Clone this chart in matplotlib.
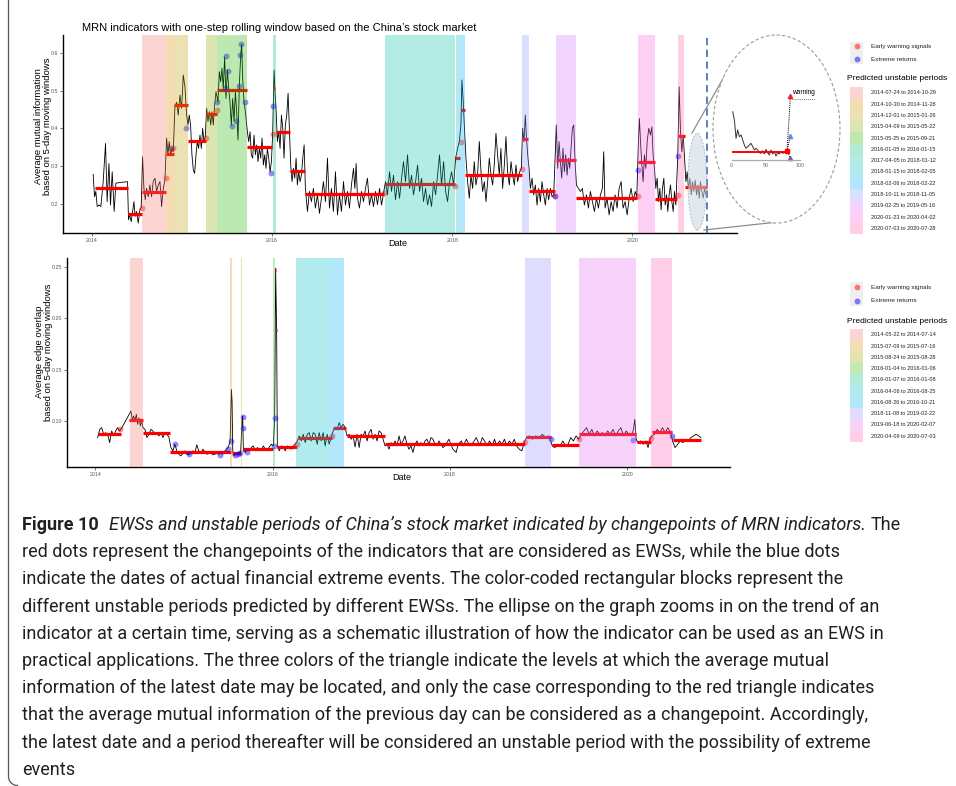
import numpy as np
import pandas as pd
import matplotlib
matplotlib.use("Agg")
import matplotlib.pyplot as plt
from matplotlib.patches import Ellipse, Rectangle
from matplotlib.lines import Line2D
from matplotlib.transforms import Affine2D

# ---------------- data: average mutual information (top) ----------------
mi_t = [2014.015, 2014.03, 2014.044, 2014.06, 2014.08, 2014.10, 2014.126, 2014.152, 2014.17, 2014.19, 2014.207, 2014.226, 2014.248, 2014.267, 2014.396,
        2014.407, 2014.42, 2014.437, 2014.452, 2014.467, 2014.481, 2014.496, 2014.515, 2014.533, 2014.548,
        2014.563, 2014.578, 2014.593, 2014.607, 2014.626, 2014.644, 2014.663, 2014.681, 2014.70, 2014.719, 2014.737, 2014.756, 2014.774, 2014.793, 2014.811,
        2014.83, 2014.844, 2014.859, 2014.874, 2014.889, 2014.904,
        2014.922, 2014.941, 2014.959, 2014.978, 2014.996, 2015.015, 2015.033, 2015.052, 2015.067,
        2015.081, 2015.096, 2015.111, 2015.126, 2015.141, 2015.156, 2015.17, 2015.185, 2015.20, 2015.215, 2015.23, 2015.244, 2015.259,
        2015.274, 2015.289, 2015.304, 2015.319, 2015.333, 2015.348, 2015.363, 2015.378,
        2015.40, 2015.415, 2015.43, 2015.444, 2015.459, 2015.474, 2015.489, 2015.504, 2015.519, 2015.533, 2015.548, 2015.563, 2015.578, 2015.593, 2015.607, 2015.622, 2015.637, 2015.652, 2015.663, 2015.674, 2015.689, 2015.704,
        2015.726, 2015.741, 2015.756, 2015.77, 2015.785, 2015.80, 2015.815, 2015.83, 2015.844, 2015.859, 2015.874, 2015.889, 2015.904, 2015.919, 2015.933, 2015.948, 2015.963, 2015.978, 2015.993,
        2016.007, 2016.022, 2016.033,
        2016.044, 2016.059, 2016.074, 2016.089, 2016.104, 2016.119, 2016.133, 2016.148, 2016.163, 2016.178, 2016.193,
        2016.207, 2016.222, 2016.237, 2016.252, 2016.267, 2016.281, 2016.296, 2016.311, 2016.326, 2016.341, 2016.356,
        2016.37, 2016.393, 2016.415, 2016.437, 2016.459, 2016.481, 2016.504, 2016.526, 2016.548, 2016.57,
        2016.593, 2016.615, 2016.637, 2016.659, 2016.681, 2016.704, 2016.726, 2016.748, 2016.77, 2016.793,
        2016.815, 2016.837, 2016.859, 2016.881, 2016.904, 2016.919, 2016.933, 2016.948, 2016.97, 2016.993,
        2017.015, 2017.037, 2017.059, 2017.081, 2017.104, 2017.126, 2017.148, 2017.17, 2017.193, 2017.215, 2017.237,
        2017.259, 2017.281, 2017.304, 2017.326, 2017.348, 2017.37, 2017.393, 2017.415, 2017.441, 2017.459,
        2017.481, 2017.504, 2017.526, 2017.548, 2017.57, 2017.593, 2017.615, 2017.637, 2017.659, 2017.681,
        2017.704, 2017.726, 2017.748, 2017.77, 2017.793, 2017.815, 2017.837, 2017.859, 2017.881, 2017.904,
        2017.926, 2017.948, 2017.97, 2017.993, 2018.015,
        2018.037, 2018.059, 2018.078, 2018.096, 2018.107, 2018.122, 2018.137,
        2018.152, 2018.17, 2018.189, 2018.207, 2018.226, 2018.244, 2018.263, 2018.281, 2018.30, 2018.319,
        2018.337, 2018.356, 2018.374, 2018.393, 2018.411, 2018.43, 2018.448, 2018.466, 2018.485, 2018.503,
        2018.522, 2018.54, 2018.559, 2018.578, 2018.596, 2018.614, 2018.633, 2018.652, 2018.67, 2018.689,
        2018.707, 2018.726, 2018.748, 2018.767,
        2018.781, 2018.796, 2018.811, 2018.822, 2018.837,
        2018.852, 2018.867, 2018.885, 2018.904, 2018.922, 2018.941, 2018.959, 2018.978, 2018.996, 2019.015, 2019.033, 2019.052, 2019.07, 2019.089, 2019.107, 2019.126,
        2019.155, 2019.17, 2019.185, 2019.20, 2019.215, 2019.229, 2019.244, 2019.259, 2019.274, 2019.289, 2019.304, 2019.318, 2019.333, 2019.348, 2019.363,
        2019.378, 2019.40, 2019.422, 2019.444, 2019.466, 2019.489, 2019.511, 2019.533, 2019.555, 2019.578,
        2019.60, 2019.622, 2019.644, 2019.666, 2019.681, 2019.696, 2019.718, 2019.741, 2019.763, 2019.785,
        2019.807, 2019.829, 2019.852, 2019.874, 2019.896, 2019.918, 2019.941, 2019.963, 2019.985, 2020.007,
        2020.03, 2020.048,
        2020.066, 2020.077, 2020.089, 2020.104, 2020.118, 2020.133, 2020.148, 2020.163, 2020.181, 2020.20, 2020.215, 2020.229, 2020.244,
        2020.259, 2020.274, 2020.289, 2020.304, 2020.318, 2020.333, 2020.348, 2020.363, 2020.378, 2020.392, 2020.407, 2020.422, 2020.437, 2020.452, 2020.466, 2020.481,
        2020.503, 2020.518, 2020.533, 2020.548, 2020.563,
        2020.578, 2020.593, 2020.607, 2020.622, 2020.637, 2020.652, 2020.666, 2020.681, 2020.696, 2020.711, 2020.726, 2020.741, 2020.755, 2020.77, 2020.785, 2020.80, 2020.815]
mi_v = [0.278, 0.219, 0.233, 0.193, 0.197, 0.193, 0.259, 0.36, 0.206, 0.307, 0.197, 0.285, 0.18, 0.255, 0.259,
        0.158, 0.171, 0.153, 0.18, 0.206, 0.167, 0.18, 0.149, 0.184, 0.19,
        0.325, 0.241, 0.211, 0.241, 0.219, 0.25, 0.219, 0.259, 0.268, 0.233, 0.25, 0.259, 0.193, 0.241, 0.263,
        0.374, 0.33, 0.365, 0.33, 0.347, 0.338,
        0.457, 0.469, 0.435, 0.488, 0.453, 0.541, 0.51, 0.435, 0.409,
        0.435, 0.409, 0.33, 0.29, 0.281, 0.33, 0.365, 0.347, 0.382, 0.347, 0.40, 0.365, 0.378,
        0.453, 0.418, 0.444, 0.409, 0.444, 0.409, 0.462, 0.497,
        0.47, 0.55, 0.523, 0.559, 0.506, 0.589, 0.479, 0.554, 0.506, 0.47, 0.409, 0.479, 0.418, 0.497, 0.444, 0.369, 0.515, 0.594, 0.622, 0.532, 0.47, 0.444,
        0.391, 0.365, 0.391, 0.33, 0.321, 0.382, 0.33, 0.356, 0.312, 0.347, 0.321, 0.374, 0.303, 0.33, 0.294, 0.347, 0.321, 0.285, 0.312,
        0.387, 0.554, 0.497,
        0.453, 0.365, 0.391, 0.347, 0.435, 0.40, 0.321, 0.409, 0.435, 0.493, 0.391,
        0.303, 0.259, 0.294, 0.268, 0.321, 0.25, 0.285, 0.259, 0.276, 0.321, 0.356,
        0.241, 0.18, 0.233, 0.206, 0.241, 0.189, 0.224, 0.175, 0.215, 0.259,
        0.206, 0.321, 0.189, 0.241, 0.18, 0.285, 0.171, 0.224, 0.18, 0.259,
        0.197, 0.233, 0.189, 0.25, 0.294, 0.241, 0.307, 0.215, 0.189, 0.233,
        0.206, 0.241, 0.268, 0.197, 0.224, 0.193, 0.233, 0.198, 0.241, 0.197, 0.228,
        0.259, 0.224, 0.285, 0.233, 0.276, 0.211, 0.259, 0.215, 0.276, 0.312,
        0.259, 0.33, 0.241, 0.276, 0.224, 0.259, 0.303, 0.233, 0.268, 0.206,
        0.241, 0.197, 0.224, 0.193, 0.259, 0.224, 0.276, 0.33, 0.25, 0.312,
        0.233, 0.206, 0.259, 0.285, 0.25,
        0.321, 0.347, 0.365, 0.409, 0.528, 0.47, 0.391,
        0.321, 0.259, 0.215, 0.276, 0.241, 0.312, 0.25, 0.276, 0.365, 0.285,
        0.233, 0.259, 0.206, 0.259, 0.321, 0.276, 0.25, 0.303, 0.387, 0.33,
        0.276, 0.347, 0.241, 0.303, 0.378, 0.285, 0.25, 0.312, 0.276, 0.25,
        0.303, 0.259, 0.285, 0.294,
        0.40, 0.365, 0.435, 0.382, 0.33,
        0.294, 0.241, 0.268, 0.224, 0.25, 0.197, 0.241, 0.206, 0.259, 0.224, 0.197, 0.241, 0.211, 0.241, 0.219, 0.224,
        0.409, 0.294, 0.365, 0.312, 0.268, 0.347, 0.285, 0.33, 0.276, 0.321, 0.294, 0.347, 0.40, 0.409, 0.312,
        0.25, 0.241, 0.233, 0.241, 0.197, 0.224, 0.189, 0.233, 0.206, 0.18,
        0.215, 0.189, 0.224, 0.241, 0.338, 0.189, 0.215, 0.171, 0.206, 0.18,
        0.224, 0.189, 0.241, 0.259, 0.189, 0.206, 0.171, 0.215, 0.241, 0.206,
        0.233, 0.219,
        0.365, 0.426, 0.365, 0.303, 0.259, 0.33, 0.294, 0.365, 0.40, 0.382, 0.404, 0.33, 0.294,
        0.241, 0.268, 0.206, 0.241, 0.184, 0.241, 0.268, 0.197, 0.224, 0.18, 0.224, 0.25, 0.206, 0.18, 0.233, 0.197,
        0.33, 0.51, 0.391, 0.338, 0.382,
        0.321, 0.259, 0.285, 0.241, 0.268, 0.224, 0.259, 0.233, 0.263, 0.224, 0.25, 0.215, 0.259, 0.233, 0.215, 0.241, 0.224]

# changepoint segments (start, end, mean level)
mi_seg_start = [2014.03, 2014.404, 2014.559, 2014.826, 2014.915, 2015.07, 2015.27, 2015.389, 2015.726, 2016.015, 2016.044, 2016.2, 2016.37,
                2017.248, 2018.033, 2018.096, 2018.144, 2018.774, 2018.848, 2019.148, 2019.374, 2020.059, 2020.255, 2020.503, 2020.578]
mi_seg_end = [2014.40, 2014.552, 2014.822, 2014.911, 2015.07, 2015.27, 2015.389, 2015.719, 2016.0, 2016.037, 2016.2, 2016.367, 2017.237,
              2018.03, 2018.089, 2018.144, 2018.774, 2018.84, 2019.137, 2019.374, 2020.052, 2020.255, 2020.496, 2020.578, 2020.822]
mi_seg_level = [0.243, 0.173, 0.231, 0.331, 0.463, 0.367, 0.437, 0.502, 0.35, 0.508, 0.389, 0.288, 0.226,
                0.252, 0.322, 0.448, 0.276, 0.371, 0.235, 0.315, 0.215, 0.311, 0.213, 0.379, 0.244]

mi_ews_t = [2014.552, 2014.822, 2014.904, 2015.263, 2015.385, 2016.007, 2017.244, 2018.033, 2018.092, 2018.774, 2019.137, 2020.059, 2020.503]
mi_ews_v = [0.189, 0.268, 0.349, 0.375, 0.448, 0.384, 0.228, 0.248, 0.365, 0.292, 0.221, 0.221, 0.224]
mi_ext_t = [2014.878, 2015.041, 2015.393, 2015.474, 2015.485, 2015.515, 2015.556, 2015.6, 2015.633, 2015.644, 2015.652, 2015.7,
            2015.993, 2016.007, 2019.137, 2020.059, 2020.503]
mi_ext_v = [0.347, 0.40, 0.469, 0.506, 0.591, 0.552, 0.406, 0.419, 0.513, 0.594, 0.623, 0.469, 0.281, 0.459, 0.221, 0.29, 0.328]

top_start = ['2014-07-24', '2014-10-30', '2014-12-01', '2015-04-09', '2015-05-25', '2016-01-05', '2017-04-05',
             '2018-01-15', '2018-02-06', '2018-10-11', '2019-02-25', '2020-01-23', '2020-07-03']
top_end = ['2014-10-29', '2014-11-28', '2015-01-26', '2015-05-22', '2015-09-21', '2016-01-15', '2018-01-12',
           '2018-02-05', '2018-02-22', '2018-11-05', '2019-05-16', '2020-04-02', '2020-07-28']
latest_date = 2020.822

# ---------------- data: average edge overlap (bottom) ----------------
eo_t = [2014.026, 2014.049, 2014.071, 2014.094, 2014.116, 2014.139, 2014.161, 2014.184, 2014.206, 2014.229, 2014.251, 2014.274, 2014.296,
        2014.401, 2014.417, 2014.432, 2014.447, 2014.462, 2014.477, 2014.492, 2014.507, 2014.522,
        2014.537, 2014.559, 2014.582, 2014.604, 2014.627, 2014.649, 2014.672, 2014.694, 2014.717, 2014.739, 2014.762, 2014.784, 2014.807, 2014.829,
        2014.852, 2014.874, 2014.897, 2014.919, 2014.942, 2014.964, 2014.987, 2015.009, 2015.032, 2015.054,
        2015.077, 2015.099, 2015.122, 2015.144, 2015.167, 2015.189, 2015.212, 2015.235, 2015.257, 2015.279,
        2015.302, 2015.325, 2015.347, 2015.37, 2015.392, 2015.415, 2015.437, 2015.46, 2015.482, 2015.501,
        2015.52, 2015.535, 2015.542, 2015.55, 2015.565, 2015.58, 2015.595, 2015.61, 2015.625, 2015.64, 2015.655, 2015.662, 2015.67,
        2015.692, 2015.715, 2015.737, 2015.76, 2015.782, 2015.805, 2015.827, 2015.85, 2015.872, 2015.895, 2015.917, 2015.94, 2015.962, 2015.985, 2016.008,
        2016.023, 2016.034, 2016.045, 2016.053, 2016.075, 2016.098, 2016.12, 2016.143, 2016.165, 2016.188, 2016.21, 2016.233, 2016.255,
        2016.278, 2016.30, 2016.323, 2016.345, 2016.368, 2016.39, 2016.413, 2016.435, 2016.458, 2016.48, 2016.503, 2016.525, 2016.548, 2016.57, 2016.593, 2016.615, 2016.638, 2016.66,
        2016.683, 2016.705, 2016.728, 2016.75, 2016.773, 2016.795, 2016.818,
        2016.84, 2016.863, 2016.886, 2016.908, 2016.93, 2016.953, 2016.976, 2016.998, 2017.021, 2017.043, 2017.066, 2017.088, 2017.111, 2017.133, 2017.156, 2017.178, 2017.201, 2017.223, 2017.246,
        2017.268, 2017.291, 2017.313, 2017.336, 2017.358, 2017.381, 2017.403, 2017.426, 2017.448, 2017.471,
        2017.493, 2017.516, 2017.538, 2017.561, 2017.583, 2017.606, 2017.629, 2017.651, 2017.674, 2017.696,
        2017.719, 2017.741, 2017.764, 2017.786, 2017.809, 2017.831, 2017.854, 2017.876, 2017.899, 2017.921,
        2017.944, 2017.966, 2017.989,
        2018.011, 2018.034, 2018.071, 2018.093, 2018.13, 2018.149, 2018.186,
        2018.223, 2018.261, 2018.298, 2018.335, 2018.365, 2018.391, 2018.417, 2018.447, 2018.477, 2018.503,
        2018.529, 2018.559, 2018.588, 2018.615, 2018.641, 2018.67, 2018.70, 2018.726, 2018.752, 2018.782,
        2018.812, 2018.838,
        2018.864, 2018.894, 2018.931, 2018.968, 2019.006, 2019.043, 2019.08, 2019.117,
        2019.155, 2019.184, 2019.214, 2019.244, 2019.274, 2019.304, 2019.333, 2019.363, 2019.393, 2019.423, 2019.453,
        2019.482, 2019.512, 2019.542, 2019.572, 2019.601, 2019.631, 2019.661, 2019.691, 2019.721, 2019.75, 2019.78,
        2019.81, 2019.84, 2019.87, 2019.899, 2019.929, 2019.959, 2019.989, 2020.019, 2020.048, 2020.071, 2020.086,
        2020.101, 2020.123, 2020.153, 2020.182, 2020.212, 2020.235, 2020.257,
        2020.279, 2020.309, 2020.339, 2020.369, 2020.398, 2020.428, 2020.458, 2020.488,
        2020.518, 2020.54, 2020.57, 2020.60, 2020.629, 2020.659, 2020.689, 2020.719, 2020.749, 2020.778, 2020.808, 2020.831]
eo_v = [0.0839, 0.0919, 0.0935, 0.0871, 0.0887, 0.0871, 0.0790, 0.0903, 0.0855, 0.0903, 0.0935, 0.0903, 0.0929,
        0.1097, 0.1016, 0.1048, 0.100, 0.1065, 0.0968, 0.1032, 0.0952, 0.100,
        0.0935, 0.0919, 0.0839, 0.0871, 0.0919, 0.0903, 0.0871, 0.0887, 0.0855, 0.0887, 0.0839, 0.0887, 0.0871, 0.0845,
        0.0742, 0.0710, 0.0774, 0.0710, 0.0677, 0.0661, 0.0684, 0.0710, 0.0677, 0.0671,
        0.0694, 0.0710, 0.0684, 0.0768, 0.0710, 0.0684, 0.0726, 0.0703, 0.0677, 0.0684,
        0.0694, 0.0671, 0.0677, 0.0684, 0.0677, 0.0703, 0.0677, 0.0710, 0.0726, 0.0748,
        0.0806, 0.1306, 0.1194, 0.0710, 0.0661, 0.0677, 0.0684, 0.0677, 0.0694, 0.0710, 0.100, 0.1048, 0.0710,
        0.0694, 0.0726, 0.0710, 0.0742, 0.0758, 0.0710, 0.0742, 0.0726, 0.0710, 0.0758, 0.0726, 0.0710, 0.0748, 0.0774, 0.0758,
        0.1032, 0.2484, 0.1871, 0.0758, 0.0710, 0.0758, 0.0742, 0.0710, 0.0758, 0.0742, 0.0726, 0.0758, 0.0774,
        0.0806, 0.0855, 0.0806, 0.0871, 0.0790, 0.0871, 0.0887, 0.0806, 0.0887, 0.0871, 0.0774, 0.0887, 0.0806, 0.0887, 0.0758, 0.0871, 0.0774, 0.0839,
        0.0903, 0.0935, 0.0919, 0.0984, 0.0935, 0.0968, 0.0935,
        0.0855, 0.0871, 0.0823, 0.0855, 0.0748, 0.0871, 0.0742, 0.0871, 0.0855, 0.0903, 0.0806, 0.0887, 0.0919, 0.0823, 0.0871, 0.0806, 0.0903, 0.0887, 0.0823,
        0.0758, 0.0774, 0.0726, 0.0790, 0.0758, 0.0806, 0.0758, 0.0855, 0.0774, 0.0806,
        0.0855, 0.0774, 0.0726, 0.0758, 0.0694, 0.0774, 0.0806, 0.0758, 0.0790, 0.0758,
        0.0806, 0.0823, 0.0774, 0.0839, 0.0823, 0.0774, 0.0758, 0.0806, 0.0774, 0.0742,
        0.0758, 0.0790, 0.0823,
        0.0774, 0.0726, 0.0694, 0.0774, 0.0806, 0.0758, 0.0823,
        0.0758, 0.0790, 0.0839, 0.0758, 0.0839, 0.0806, 0.0758, 0.0806, 0.0758, 0.0823,
        0.0758, 0.0806, 0.0774, 0.0823, 0.0758, 0.0806, 0.0774, 0.0823, 0.0758, 0.0726,
        0.0710, 0.0790,
        0.0839, 0.0855, 0.0823, 0.0855, 0.0839, 0.0871, 0.0839, 0.0855,
        0.0758, 0.0742, 0.0774, 0.0758, 0.0806, 0.0758, 0.0774, 0.0839, 0.0806, 0.0855, 0.0823,
        0.0871, 0.0903, 0.0935, 0.0871, 0.0919, 0.0855, 0.0903, 0.0871, 0.0887, 0.0855, 0.0903,
        0.0871, 0.0919, 0.0855, 0.0903, 0.0935, 0.0855, 0.0903, 0.0871, 0.0855, 0.0919, 0.1016,
        0.0823, 0.0790, 0.0806, 0.0774, 0.0806, 0.0742, 0.0823,
        0.0855, 0.0871, 0.0919, 0.0887, 0.0935, 0.0887, 0.0935, 0.0887,
        0.0790, 0.0742, 0.0774, 0.0806, 0.0790, 0.0823, 0.0806, 0.0839, 0.0855, 0.0871, 0.0855, 0.0839]

eo_seg_start = [2014.026, 2014.383, 2014.537, 2014.844, 2015.527, 2015.54, 2015.648, 2015.67, 2016.03, 2016.04, 2016.053, 2016.285,
                2016.683, 2016.84, 2017.265, 2018.857, 2019.147, 2019.46, 2020.112, 2020.276, 2020.514]
eo_seg_end = [2014.289, 2014.537, 2014.844, 2015.527, 2015.535, 2015.64, 2015.655, 2016.007, 2016.036, 2016.047, 2016.278, 2016.672,
              2016.826, 2017.265, 2018.849, 2019.143, 2019.452, 2020.104, 2020.264, 2020.507, 2020.831]
eo_seg_level = [0.0877, 0.1013, 0.0887, 0.0694, 0.119, 0.069, 0.101, 0.0726, 0.247, 0.188, 0.0748, 0.0839,
                0.0929, 0.0852, 0.0774, 0.0842, 0.0768, 0.0877, 0.080, 0.0894, 0.0813]

eo_ews_t = [2014.281, 2016.27, 2016.675, 2018.849, 2019.46, 2020.264]
eo_ews_v = [0.0919, 0.0774, 0.0855, 0.080, 0.0823, 0.0832]
eo_ext_t = [2014.893, 2015.054, 2015.407, 2015.493, 2015.527, 2015.576, 2015.614, 2015.632, 2015.662, 2015.662,
            2015.715, 2016.011, 2016.03, 2019.143, 2020.06, 2020.503]
eo_ext_v = [0.0774, 0.0677, 0.0671, 0.0726, 0.0806, 0.0671, 0.0684, 0.0687, 0.1042, 0.0929,
            0.0694, 0.0758, 0.1026, 0.0823, 0.0816, 0.0855]

bot_start = ['2014-05-22', '2015-07-09', '2015-08-24', '2016-01-04', '2016-01-07', '2016-04-06', '2016-08-26',
             '2018-11-08', '2019-06-18', '2020-04-09']
bot_end = ['2014-07-14', '2015-07-16', '2015-08-28', '2016-01-06', '2016-01-08', '2016-08-25', '2016-10-21',
           '2019-02-22', '2020-02-07', '2020-07-03']

# schematic zoom inside the ellipse
mini_v = [0.69, 0.571, 0.31, 0.429, 0.333, 0.357, 0.286, 0.214, 0.167, 0.19, 0.214, 0.238, 0.19, 0.143, 0.167, 0.143,
          0.105, 0.095, 0.133, 0.086, 0.152, 0.105, 0.071, 0.143, 0.086, 0.119, 0.057, 0.105, 0.086, 0.119, 0.095, 0.105, 0.133]
mini_level = 0.119
mini_cp = (81, 0.133)
mini_next_x = 86
mini_next_v = [0.919, 0.343, 0.024]
mini_next_c = ['#FF1A1A', '#5A8ED8', '#7D55A8']

# ggplot hue palettes
hue13 = ['#F8766D', '#E18A00', '#BE9C00', '#8CAB00', '#24B700', '#00BE70', '#00C1AB',
         '#00BBDA', '#00ACFC', '#8B93FF', '#D575FE', '#F962DD', '#FF65AC']
hue10 = ['#F8766D', '#D89000', '#A3A500', '#39B600', '#00BF7D', '#00BFC4', '#00B0F6',
         '#9590FF', '#E76BF3', '#FF62BC']

caption = [
    "red dots represent the changepoints of the indicators that are considered as EWSs, while the blue dots",
    "indicate the dates of actual financial extreme events. The color-coded rectangular blocks represent the",
    "different unstable periods predicted by different EWSs. The ellipse on the graph zooms in on the trend of an",
    "indicator at a certain time, serving as a schematic illustration of how the indicator can be used as an EWS in",
    "practical applications. The three colors of the triangle indicate the levels at which the average mutual",
    "information of the latest date may be located, and only the case corresponding to the red triangle indicates",
    "that the average mutual information of the previous day can be considered as a changepoint. Accordingly,",
    "the latest date and a period thereafter will be considered an unstable period with the possibility of extreme",
    "events",
]


def year_frac(s):
    d = pd.Timestamp(s)
    return d.year + (d.dayofyear - 1) / (366 if d.is_leap_year else 365)


plt.rcParams['font.family'] = ['Liberation Sans', 'DejaVu Sans']
W, H = 956, 786
fig = plt.figure(figsize=(W / 100, H / 100), dpi=100)
PX = Affine2D().scale(1 / W, -1 / H).translate(0, 1) + fig.transFigure


def panel(rect, t, v, seg, ews, ext, starts, ends, colors, ylim, yticks, ylabels):
    ax = fig.add_axes(rect)
    ax.plot(t, v, color='black', lw=0.6, zorder=2)
    for a, b, lev in zip(*seg):
        ax.plot([a, b], [lev, lev], color='red', lw=2.3, solid_capstyle='butt', zorder=2.2)
    ax.scatter(ews[0], ews[1], s=18, color='red', alpha=0.45, lw=0, zorder=2.4)
    ax.scatter(ext[0], ext[1], s=18, color='blue', alpha=0.45, lw=0, zorder=2.4)
    for a, b, c in zip(starts, ends, colors):
        ax.axvspan(year_frac(a), year_frac(b) + 1 / 365, color=c, alpha=0.3, lw=0, zorder=3)
    ax.set_xlim(2013.68, 2021.16)
    ax.set_ylim(*ylim)
    ax.set_xticks([2014, 2016, 2018, 2020])
    ax.set_xticklabels(['2014', '2016', '2018', '2020'])
    ax.set_yticks(yticks)
    ax.set_yticklabels(ylabels)
    for s in ['top', 'right']:
        ax.spines[s].set_visible(False)
    for s in ['left', 'bottom']:
        ax.spines[s].set_linewidth(1.0)
    ax.tick_params(length=2, width=0.5, color='#444444', labelsize=3.8, labelcolor='#555555', pad=1.5)
    ax.set_facecolor('white')
    return ax


ax1 = panel([63 / W, 1 - 233 / H, 674 / W, 198 / H], mi_t, mi_v,
            (mi_seg_start, mi_seg_end, mi_seg_level), (mi_ews_t, mi_ews_v), (mi_ext_t, mi_ext_v),
            top_start, top_end, hue13, (0.123, 0.647), [0.2, 0.3, 0.4, 0.5, 0.6],
            ['0.2', '0.3', '0.4', '0.5', '0.6'])
ax1.axvline(latest_date, color='#4A78B5', lw=1.3, ls=(0, (4, 2.5)), zorder=4)
ax1.add_patch(Ellipse((2020.719, 0.259), 0.208, 0.256, facecolor='#C9D6E4', alpha=0.55,
                      edgecolor='#8C8C8C', lw=0.7, ls=(0, (2, 1.5)), zorder=5))

ax2 = panel([67 / W, 1 - 467 / H, 663 / W, 209 / H], eo_t, eo_v,
            (eo_seg_start, eo_seg_end, eo_seg_level), (eo_ews_t, eo_ews_v), (eo_ext_t, eo_ext_v),
            bot_start, bot_end, hue10, (0.0553, 0.2584), [0.10, 0.15, 0.20, 0.25],
            ['0.10', '0.15', '0.20', '0.25'])

# titles and axis labels
fig.text(82, 31, "MRN indicators with one-step rolling window based on the China\u2019s stock market",
         transform=PX, fontsize=8.0, va='baseline')
fig.text(398, 244, "Date", transform=PX, fontsize=6.5, ha='center', va='center')
fig.text(402, 478, "Date", transform=PX, fontsize=6.5, ha='center', va='center')
fig.text(43.5, 126, "Average mutual information\nbased on 5-day moving windows", transform=PX,
         fontsize=6.8, rotation=90, ha='center', va='center', multialignment='center', linespacing=1.0)
fig.text(44, 352, "Average edge overlap\nbased on 5-day moving windows", transform=PX,
         fontsize=6.8, rotation=90, ha='center', va='center', multialignment='center', linespacing=1.0)

# zoom ellipse + connectors
fig.add_artist(Line2D([692, 732], [133, 63], transform=PX, color='#8C8C8C', lw=0.9, zorder=5))
fig.add_artist(Line2D([704, 778], [230, 222], transform=PX, color='#8C8C8C', lw=0.9, zorder=5))
fig.add_artist(Ellipse((776.5, 129), 127, 188, transform=PX, facecolor='white', edgecolor='#9A9A9A',
                       lw=0.8, ls=(0, (3, 2)), zorder=5))

axm = fig.add_axes([731.7 / W, 1 - 160 / H, 68.3 / W, 70 / H], zorder=6)
axm.set_facecolor('none')
mini_x = np.linspace(1.5, 79.5, len(mini_v))
axm.plot(mini_x, mini_v, color='#333333', lw=0.7)
axm.plot([0, mini_cp[0]], [mini_level, mini_level], color='red', lw=1.4, solid_capstyle='butt')
for val, c in zip(mini_next_v, mini_next_c):
    axm.plot([mini_cp[0], mini_next_x], [mini_cp[1], val], color='black', lw=0.7, ls=(0, (1, 1)), clip_on=False)
    axm.plot([mini_next_x], [val], marker='^', ms=3, color=c, clip_on=False, ls='none')
axm.plot([mini_cp[0]], [mini_cp[1]], marker='s', ms=3, color='red', clip_on=False)
axm.plot([88, 122], [0.875, 0.875], color='#777777', lw=0.7, ls=(0, (1, 1)), clip_on=False)
axm.text(89, 0.96, "warning", fontsize=4.7, va='center', ha='left', clip_on=False)
axm.set_xlim(0, 100)
axm.set_ylim(0, 1)
for s in ['top', 'right', 'left']:
    axm.spines[s].set_visible(False)
axm.spines['bottom'].set_color('#AAAAAA')
axm.spines['bottom'].set_linewidth(0.9)
axm.set_yticks([])
axm.set_xticks([0, 50, 100])
axm.tick_params(axis='x', length=0, labelsize=3.8, labelcolor='#666666', pad=2.5)


def legend(y_bg, y_dots, y_title, y_key0, key_h, starts, ends, colors):
    fig.add_artist(Rectangle((850, y_bg[0]), 13.5, y_bg[1] - y_bg[0], transform=PX,
                             facecolor='#EFEFEF', lw=0))
    for y, c, lab in zip(y_dots, ['red', 'blue'], ['Early warning signals', 'Extreme returns']):
        fig.add_artist(Line2D([856.7], [y], transform=PX, marker='o', ms=4.2, color=c, alpha=0.5,
                              ls='none', mew=0))
        fig.text(871.5, y, lab, transform=PX, fontsize=4.6, va='center', color='#222222')
    fig.text(847.5, y_title, "Predicted unstable periods", transform=PX, fontsize=6.0, va='center')
    for i, (a, b, c) in enumerate(zip(starts, ends, colors)):
        y = y_key0 + i * key_h
        fig.add_artist(Rectangle((850.5, y), 12.5, key_h, transform=PX, facecolor=c, alpha=0.3, lw=0))
        fig.text(871, y + key_h / 2, f"{a} to {b}", transform=PX, fontsize=4.0, va='center', color='#222222')


legend((41.7, 63.5), (46.3, 59.3), 79, 87.3, 11.28, top_start, top_end, hue13)
legend((281.7, 306), (287.3, 301), 321.7, 329.3, 11.24, bot_start, bot_end, hue10)

# caption frame: left border with rounded bottom-left corner
ang = np.linspace(np.pi, np.pi / 2, 12)
fx = np.concatenate([[8.5], 17.5 + 9 * np.cos(ang)])
fy = np.concatenate([[0], 776.5 + 9 * np.sin(ang)])
fig.add_artist(Line2D(fx, fy, transform=PX, color='#555555', lw=0.9))

cap_font = ['Roboto', 'DejaVu Sans']
renderer = fig.canvas.get_renderer()
probe = fig.text(0, 0, caption[0], transform=PX, fontsize=10, family=cap_font)
fs = 10 * 816 / probe.get_window_extent(renderer).width
probe.remove()

base0, step = 530, 27.2
x = 22
runs = [("Figure 10", dict(fontweight='bold')),
        ("EWSs and unstable periods of China\u2019s stock market indicated by changepoints of MRN indicators.",
         dict(fontstyle='italic')),
        ("The", dict())]
gaps = [10, 4.5]
for i, (s, kw) in enumerate(runs):
    t = fig.text(x, base0, s, transform=PX, fontsize=fs, family=cap_font, va='baseline', color='#231F20', **kw)
    x += t.get_window_extent(renderer).width + (gaps[i] if i < len(gaps) else 0)
for i, line in enumerate(caption):
    fig.text(22, base0 + step * (i + 1), line, transform=PX, fontsize=fs, family=cap_font,
             va='baseline', color='#231F20')

fig.savefig("out.png", dpi=100, facecolor='white')
